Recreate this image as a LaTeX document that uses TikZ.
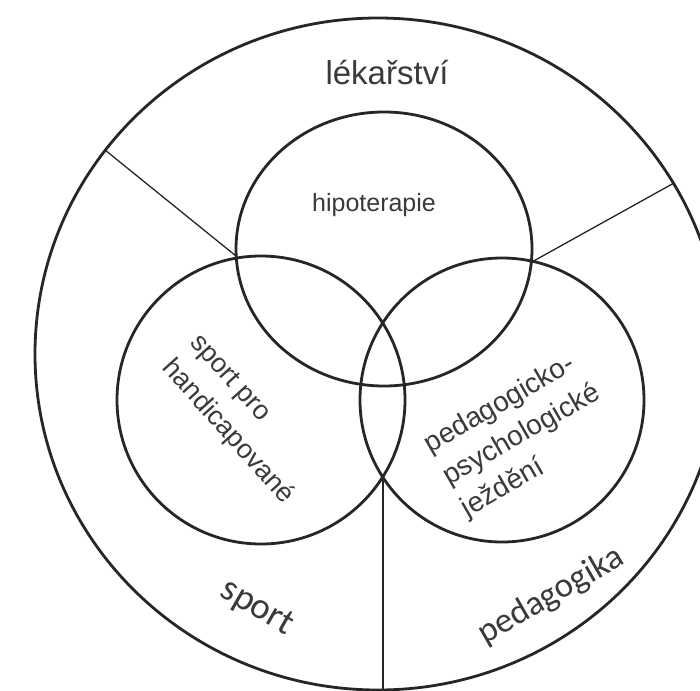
\documentclass[tikz,border=0pt]{standalone}
\usepackage{fontspec}
\setmainfont{Liberation Sans}
\newfontfamily\calib{Carlito}
\definecolor{ink}{HTML}{262626}
\definecolor{txt}{HTML}{3A3A3A}
\begin{document}
\begin{tikzpicture}[x=1pt,y=-1pt,
  ring/.style={draw=ink,line width=2.8pt},
  thin/.style={draw=ink,line width=1.3pt},
  lbl/.style={text=txt,inner sep=0pt},
]
\useasboundingbox (0,0) rectangle (700,690);
\clip (0,0) rectangle (700,690);
\fill[white] (0,0) rectangle (700,690);
% outer circle
\draw[ring] (378,354) ellipse [x radius=343, y radius=336];
% three inner circles
\draw[ring] (384,249) ellipse [x radius=148, y radius=137];
\draw[ring] (261,400) circle [radius=144];
\draw[ring] (502,400) circle [radius=142];
% division points
\coordinate (o1) at (105,150);
\coordinate (o2) at (674,183);
\coordinate (o3) at (383,692);
\coordinate (tl) at (236,256);
\coordinate (tr) at (530,263);
\coordinate (lb) at (383,477);
\draw[thin] (o1) -- (tl);
\draw[thin] (o2) -- (tr);
\draw[thin] (lb) -- (o3);
% labels
\node[lbl,font=\fontsize{33}{40}\selectfont] (lek) at (387,73) {lékařství};
\node[lbl,font=\fontsize{25}{30}\selectfont] (hip) at (374,205) {hipoterapie};
\node[lbl,font=\fontsize{27}{38}\selectfont,rotate=-48,align=left] (spp) at (241,420) {sport pro\\handicapované};
\node[lbl,font=\fontsize{28}{37}\selectfont,rotate=30,align=left] (ppj) at (522,435) {pedagogicko-\\psychologické\\ježdění};
\node[lbl,font=\calib\fontsize{37}{40}\selectfont,rotate=-30] (sp) at (257,608) {sport};
\node[lbl,font=\calib\fontsize{35}{40}\selectfont,rotate=30] (ped) at (551,596) {pedagogika};
\end{tikzpicture}
\end{document}
